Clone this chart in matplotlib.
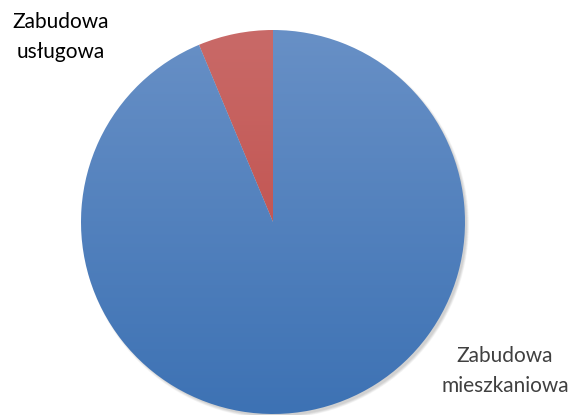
import numpy as np
import matplotlib
matplotlib.use("Agg")
from matplotlib import pyplot as plt
from matplotlib.patches import Circle
from matplotlib.colors import LinearSegmentedColormap

labels = ["Zabudowa\nusługowa", "Zabudowa\nmieszkaniowa"]
values = [6.3, 93.7]
top_colors = ["#c96a68", "#6890c6"]
bottom_colors = ["#bd4440", "#3d72b4"]

W, H = 570, 415
fig = plt.figure(figsize=(W / 100, H / 100), dpi=100)
ax = fig.add_axes([0, 0, 1, 1])

cx, cy, r = 273, 415 - 222, 192

# soft shadow, mostly towards bottom-right
for i in range(6):
    ax.add_patch(Circle((cx + 2.5, cy - 3), r - 1 + i * 0.5, color="#000000",
                        alpha=0.03, lw=0, zorder=0))

wedges, _ = ax.pie(values, startangle=90, counterclock=True, center=(cx, cy),
                   radius=r, frame=True)
ax.set_xlim(0, W)
ax.set_ylim(0, H)
ax.set_aspect("equal")
ax.axis("off")

grad = np.linspace(0, 1, 256).reshape(-1, 1)
for w, c1, c2 in zip(wedges, top_colors, bottom_colors):
    w.set_facecolor("none")
    w.set_edgecolor("none")
    cmap = LinearSegmentedColormap.from_list("g", [c1, c2])
    im = ax.imshow(grad, cmap=cmap, extent=(cx - r, cx + r, cy - r, cy + r),
                   origin="upper", aspect="auto", zorder=1)
    im.set_clip_path(w)

ax.text(61, 415 - 37, labels[0], ha="center", va="center", fontsize=15,
        family="Lato", color="#000000", linespacing=1.65)
ax.text(505, 415 - 371, labels[1], ha="center", va="center", fontsize=15,
        family="Lato", color="#404040", linespacing=1.65)

fig.savefig("out.png", dpi=100)
